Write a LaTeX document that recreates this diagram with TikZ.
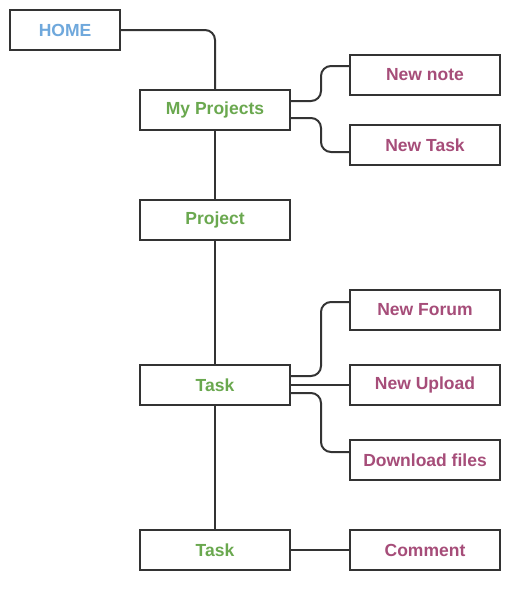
\documentclass[tikz,border=0pt]{standalone}
\usepackage{fontspec}
\setmainfont{Liberation Sans}
\definecolor{homeblue}{HTML}{6FA8DC}
\definecolor{pagegreen}{HTML}{6AA84F}
\definecolor{actionpink}{HTML}{A64D79}
\definecolor{linegray}{HTML}{333333}
\begin{document}
\begin{tikzpicture}[x=1pt,y=-1pt,
    box/.style={draw=linegray,line width=2pt,fill=white,minimum width=150pt,minimum height=40pt,inner sep=0pt,font=\fontsize{17.5}{20}\selectfont\bfseries},
    page/.style={box,text=pagegreen},
    action/.style={box,text=actionpink},
    link/.style={draw=linegray,line width=2pt,rounded corners=10pt}]
        \useasboundingbox (0,0) rectangle (520,590);
        \node[box,text=homeblue,minimum width=110pt] (home) at (65,30) {HOME};
        \node[page] (myproj) at (215,110) {My Projects};
        \node[action] (newnote) at (425,75) {New note};
        \node[action] (newtask) at (425,145) {New Task};
        \node[page] (project) at (215,220) {Project};
        \node[page] (task) at (215,385) {Task};
        \node[action] (newforum) at (425,310) {New Forum};
        \node[action] (newupload) at (425,385) {New Upload};
        \node[action] (download) at (425,460) {Download files};
        \node[page] (subtask) at (215,550) {Task};
        \node[action] (comment) at (425,550) {Comment};
        % main column
        \draw[link] (home.east) -| (myproj.north);
        \draw[link] (myproj) -- (project);
        \draw[link] (project) -- (task);
        \draw[link] (task) -- (subtask);
        % branches
        \draw[link] ([yshift=9pt]myproj.east) -- ++(30,0) |- ([yshift=9pt]newnote.west);
        \draw[link] ([yshift=-8pt]myproj.east) -- ++(30,0) |- ([yshift=-7pt]newtask.west);
        \draw[link] ([yshift=9pt]task.east) -- ++(30,0) |- ([yshift=8pt]newforum.west);
        \draw[link] (task.east) -- (newupload.west);
        \draw[link] ([yshift=-8pt]task.east) -- ++(30,0) |- ([yshift=8pt]download.west);
        \draw[link] (subtask.east) -- (comment.west);
    \end{tikzpicture}
\end{document}
